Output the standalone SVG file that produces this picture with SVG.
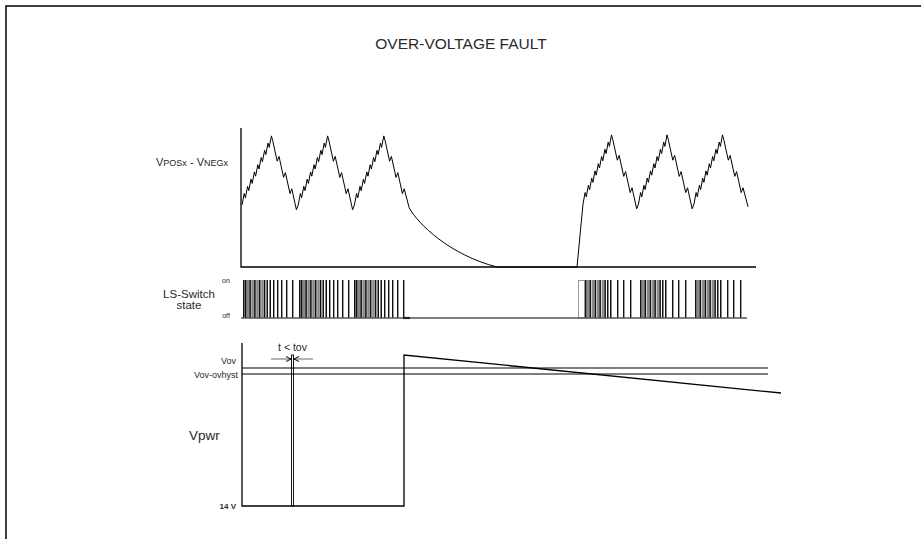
<svg xmlns="http://www.w3.org/2000/svg" xmlns:xlink="http://www.w3.org/1999/xlink" width="921" height="539" viewBox="0 0 921 539">
<style>
.ln{fill:none;stroke:#000;stroke-width:1.3}
.th{fill:none;stroke:#000;stroke-width:1}
.lbl{font-family:"Liberation Sans",Arial,sans-serif;fill:#2a2a2a}
.k{fill:#111}
.g{fill:#8a8a8a}
</style>
<defs>
<g id="pa">
<rect class="k" x="0" y="280" width="1.6" height="38"/>
<rect class="k" x="2" y="280" width="1.6" height="38"/>
<rect class="g" x="3.8" y="280" width="2.4" height="38"/>
<rect class="k" x="6.3" y="280" width="1.6" height="38"/>
<rect class="g" x="8.3" y="280" width="2.6" height="38"/>
<rect class="k" x="11.1" y="280" width="1.6" height="38"/>
<rect class="g" x="13.2" y="280" width="2.5" height="38"/>
<rect class="k" x="15.9" y="280" width="1.6" height="38"/>
<rect class="g" x="18.2" y="280" width="2.3" height="38"/>
<rect class="k" x="20.8" y="280" width="1.6" height="38"/>
<rect class="k" x="23.5" y="280" width="1.5" height="38"/>
<rect class="k" x="26.5" y="280" width="1.5" height="38"/>
<rect class="k" x="30" y="280" width="1.4" height="38"/>
<rect class="k" x="34" y="280" width="1.4" height="38"/>
<rect class="k" x="38" y="280" width="1.4" height="38"/>
<rect class="k" x="43" y="280" width="1.4" height="38"/>
<rect class="k" x="49" y="280" width="1.4" height="38"/>
</g>
<g id="pb">
<rect class="k" x="2" y="280" width="1.6" height="38"/>
<rect class="g" x="3.8" y="280" width="2.4" height="38"/>
<rect class="k" x="6.4" y="280" width="1.6" height="38"/>
<rect class="g" x="8.6" y="280" width="2.6" height="38"/>
<rect class="k" x="11.5" y="280" width="1.6" height="38"/>
<rect class="g" x="13.6" y="280" width="2.5" height="38"/>
<rect class="k" x="16.3" y="280" width="1.6" height="38"/>
<rect class="g" x="18.6" y="280" width="2.3" height="38"/>
<rect class="k" x="21.3" y="280" width="1.6" height="38"/>
<rect class="k" x="24" y="280" width="1.5" height="38"/>
<rect class="k" x="27" y="280" width="1.5" height="38"/>
<rect class="k" x="34" y="280" width="1.4" height="38"/>
<rect class="k" x="40" y="280" width="1.4" height="38"/>
<rect class="k" x="47" y="280" width="1.4" height="38"/>
</g>
<marker id="ah" viewBox="0 0 6 6" refX="5.5" refY="3" markerWidth="6" markerHeight="6" markerUnits="userSpaceOnUse" orient="auto">
<polyline points="0.5,0.5 5.5,3 0.5,5.5" fill="none" stroke="#000" stroke-width="1"/>
</marker>
</defs>
<rect x="0" y="0" width="921" height="539" fill="#fff"/>
<!-- frame -->
<path d="M6,539 V6 H921" fill="none" stroke="#000" stroke-width="1.5"/>
<text class="lbl" x="461" y="49" font-size="15.5" text-anchor="middle" fill="#222">OVER-VOLTAGE FAULT</text>

<!-- top plot -->
<g id="plot-vpos">
<path class="ln" d="M241,128 V267 H756"/>
<text class="lbl" x="156" y="166" font-size="11">V<tspan font-size="9">POSx</tspan> - V<tspan font-size="9">NEGx</tspan></text>
<path class="th" stroke-width="1.3" stroke-linejoin="round" d="M242,205
l2.2,-11.5 l1.2,4.3 l2.2,-11.5 l1.2,4.3 l2.2,-11.5 l1.2,4.3 l2.2,-11.5 l1.2,4.3 l2.2,-11.5 l1.2,4.3 l2.2,-11.5 l1.2,4.3 l2.2,-11.5 l1.2,4.3 l2.2,-11.5 l1.2,4.3 l2.2,-11.5 l1.2,4.3
l4.6,21 l1.8,-4.8 l4.6,21 l1.8,-4.8 l4.6,21 l1.8,-4.8 l4.6,21 l1.8,-4.8
l2.2,-11.5 l1.2,4.3 l2.2,-11.5 l1.2,4.3 l2.2,-11.5 l1.2,4.3 l2.2,-11.5 l1.2,4.3 l2.2,-11.5 l1.2,4.3 l2.2,-11.5 l1.2,4.3 l2.2,-11.5 l1.2,4.3 l2.2,-11.5 l1.2,4.3 l2.2,-11.5 l1.2,4.3
l4.6,21 l1.8,-4.8 l4.6,21 l1.8,-4.8 l4.6,21 l1.8,-4.8 l4.6,21 l1.8,-4.8
l2.2,-11.5 l1.2,4.3 l2.2,-11.5 l1.2,4.3 l2.2,-11.5 l1.2,4.3 l2.2,-11.5 l1.2,4.3 l2.2,-11.5 l1.2,4.3 l2.2,-11.5 l1.2,4.3 l2.2,-11.5 l1.2,4.3 l2.2,-11.5 l1.2,4.3 l2.2,-11.5 l1.2,4.3
l4.6,21 l1.8,-4.8 l4.6,21 l1.8,-4.8 l4.6,21 l1.8,-4.8 l5,19
C418,224 450,255 497,267 L577,267 L583,204
l2.1,-11.5 l1.2,4.3 l2.1,-11.5 l1.2,4.3 l2.1,-11.5 l1.2,4.3 l2.1,-11.5 l1.2,4.3 l2.1,-11.5 l1.2,4.3 l2.1,-11.5 l1.2,4.3 l2.1,-11.5 l1.2,4.3 l2.1,-11.5 l1.2,4.3 l2.1,-11.5 l1.2,4.3
l4.6,21 l1.85,-4.8 l4.6,21 l1.85,-4.8 l4.6,21 l1.85,-4.8 l4.6,21 l1.85,-4.8
l2.1,-11.5 l1.2,4.3 l2.1,-11.5 l1.2,4.3 l2.1,-11.5 l1.2,4.3 l2.1,-11.5 l1.2,4.3 l2.1,-11.5 l1.2,4.3 l2.1,-11.5 l1.2,4.3 l2.1,-11.5 l1.2,4.3 l2.1,-11.5 l1.2,4.3 l2.1,-11.5 l1.2,4.3
l4.6,21 l1.85,-4.8 l4.6,21 l1.85,-4.8 l4.6,21 l1.85,-4.8 l4.6,21 l1.85,-4.8
l2.1,-11.5 l1.2,4.3 l2.1,-11.5 l1.2,4.3 l2.1,-11.5 l1.2,4.3 l2.1,-11.5 l1.2,4.3 l2.1,-11.5 l1.2,4.3 l2.1,-11.5 l1.2,4.3 l2.1,-11.5 l1.2,4.3 l2.1,-11.5 l1.2,4.3 l2.1,-11.5 l1.2,4.3
l4.6,21 l1.85,-4.8 l4.6,21 l1.85,-4.8 l4.6,21 l1.85,-4.8 l5,19"/>
</g>

<!-- LS switch -->
<g id="plot-ls">
<text class="lbl" x="189" y="298" font-size="11.5" text-anchor="middle">LS-Switch</text>
<text class="lbl" x="189" y="309" font-size="11.5" text-anchor="middle">state</text>
<text class="lbl" x="226" y="283" font-size="7" text-anchor="middle">on</text>
<text class="lbl" x="226" y="318" font-size="7" text-anchor="middle">off</text>
<use xlink:href="#pa" href="#pa" x="243"/>
<use xlink:href="#pa" href="#pa" x="299"/>
<use xlink:href="#pa" href="#pa" x="354"/>
<rect x="578.5" y="280.5" width="6" height="37.5" fill="none" stroke="#999" stroke-width="1"/>
<use xlink:href="#pb" href="#pb" x="583"/>
<use xlink:href="#pb" href="#pb" x="638"/>
<use xlink:href="#pb" href="#pb" x="693"/>
<path d="M241,318 H747" fill="none" stroke="#555" stroke-width="1.5"/>
<path d="M403,318 H410" fill="none" stroke="#222" stroke-width="2.2"/>
</g>

<!-- Vpwr -->
<g id="plot-vpwr">
<path class="ln" d="M242,343 V506 H404 V355 L781,393"/>
<path class="th" stroke-width="1.2" d="M242,368 H768 M242,374 H768"/>
<rect x="291.5" y="355" width="2" height="151" fill="none" stroke="#000" stroke-width="0.9"/>
<text class="lbl" x="236" y="364" font-size="9" text-anchor="end">Vov</text>
<text class="lbl" x="238" y="377.5" font-size="9" text-anchor="end">Vov-ovhyst</text>
<text class="lbl" x="189" y="440" font-size="13.5">Vpwr</text>
<text class="lbl" x="236" y="509" font-size="8" font-weight="bold" text-anchor="end">14 V</text>
<text class="lbl" x="292.5" y="351" font-size="10.5" text-anchor="middle">t &lt; tov</text>
</g>
<g id="connectors">
<line x1="271" y1="359" x2="291" y2="359" stroke="#666" stroke-width="1" marker-end="url(#ah)"/>
<line x1="313" y1="359" x2="294" y2="359" stroke="#666" stroke-width="1" marker-end="url(#ah)"/>
</g>
</svg>
